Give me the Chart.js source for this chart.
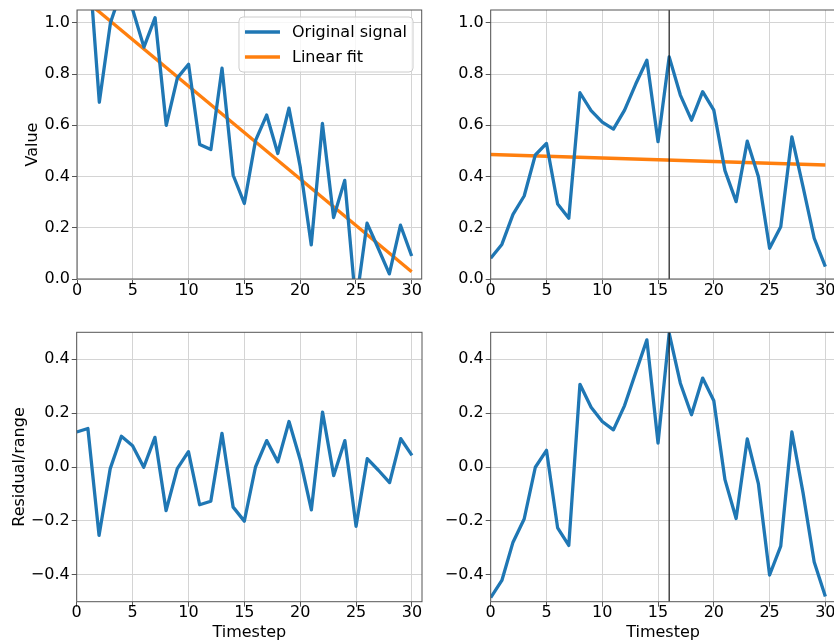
<!DOCTYPE html>
<html>
<head>
<meta charset="utf-8">
<script src="https://cdn.jsdelivr.net/npm/chart.js@4.4.0/dist/chart.umd.min.js"></script>
<style>
  html, body { margin: 0; padding: 0; background: #fff; width: 834px; height: 644px; overflow: hidden; position: relative; }
  canvas { position: absolute; }
</style>
</head>
<body>
<canvas id="topLeft" width="430" height="310" style="left:0px;top:0px"></canvas>
<canvas id="topRight" width="400" height="310" style="left:440px;top:0px"></canvas>
<canvas id="bottomLeft" width="430" height="324" style="left:0px;top:320px"></canvas>
<canvas id="bottomRight" width="400" height="324" style="left:440px;top:320px"></canvas>
<script>
// ---- data ----
const steps = [0, 1, 2, 3, 4, 5, 6, 7, 8, 9, 10, 11, 12, 13, 14, 15, 16, 17, 18, 19, 20, 21, 22, 23, 24, 25, 26, 27, 28, 29, 30];
const xTicks = [0, 5, 10, 15, 20, 25, 30];
const valueTicks = [0, 0.2, 0.4, 0.6, 0.8, 1.0];
const residualTicks = [-0.4, -0.2, 0, 0.2, 0.4];
const stepRange = [0, 30.9];
const valueRange = [0, 1.05];
const residualRange = [-0.5, 0.5];
const markerStep = [16];

// trending signal (left column)
const leftSignal = [1.30, 1.28, 0.69, 1.00, 1.13, 1.05, 0.905, 1.02, 0.60, 0.785, 0.838, 0.525, 0.505, 0.823, 0.405, 0.295,
                    0.54, 0.64, 0.49, 0.667, 0.44, 0.133, 0.607, 0.24, 0.385, -0.10, 0.218, 0.12, 0.02, 0.21, 0.09];
const leftFitSteps = [0, 30];
const leftFit = [1.115, 0.028];
const leftResidual = [0.13, 0.143, -0.254, -0.006, 0.114, 0.079, -0.001, 0.11, -0.162, -0.006, 0.057, -0.14, -0.127, 0.125, -0.149, -0.201,
                      0.0, 0.098, 0.019, 0.169, 0.027, -0.159, 0.204, -0.032, 0.098, -0.22, 0.031, -0.012, -0.058, 0.105, 0.043];

// hump-shaped signal (right column)
const rightSignal = [0.081, 0.135, 0.252, 0.324, 0.484, 0.529, 0.293, 0.237, 0.727, 0.657, 0.612, 0.585, 0.659, 0.761, 0.854, 0.536,
                     0.867, 0.718, 0.62, 0.731, 0.659, 0.423, 0.302, 0.538, 0.399, 0.12, 0.204, 0.555, 0.36, 0.159, 0.048];
const rightFitSteps = [0, 30];
const rightFit = [0.486, 0.445];
const rightResidual = [-0.485, -0.421, -0.279, -0.193, -0.001, 0.062, -0.226, -0.291, 0.307, 0.222, 0.169, 0.138, 0.228, 0.351, 0.472, 0.089,
                       0.496, 0.311, 0.194, 0.33, 0.246, -0.047, -0.191, 0.104, -0.063, -0.401, -0.294, 0.13, -0.096, -0.353, -0.481];

// ---- styling ----
Chart.defaults.font.family = '"DejaVu Sans", sans-serif';
Chart.defaults.font.size = 16;
Chart.defaults.color = '#000';

const BLUE = '#1f77b4';
const ORANGE = '#ff7f0e';
const GRID = '#d4d4d4';
const SPINE = '#555';

function series(xs, ys, label, color) {
  return {
    label: label,
    data: xs.map((x, i) => ({ x: x, y: ys[i] })),
    borderColor: color,
    backgroundColor: color,
    borderWidth: 3.3,
    pointRadius: 0,
    tension: 0,
    fill: false,
    clip: 0,
    borderJoinStyle: 'round'
  };
}

function fmtTick(v) {
  const s = Math.abs(v).toFixed(1);
  return v < -1e-9 ? '\u2212' + s : s;
}

// axes frame and optional vertical marker
const framePlugin = {
  id: 'frame',
  afterDatasetsDraw(chart, args, opts) {
    const { ctx, chartArea: a } = chart;
    ctx.save();
    if (opts && opts.marker != null) {
      const px = chart.scales.x.getPixelForValue(opts.marker);
      ctx.strokeStyle = '#1a1a1a';
      ctx.lineWidth = 1.2;
      ctx.beginPath();
      ctx.moveTo(px, a.top);
      ctx.lineTo(px, a.bottom);
      ctx.stroke();
    }
    ctx.strokeStyle = SPINE;
    ctx.lineWidth = 1;
    ctx.strokeRect(a.left, a.top, a.right - a.left, a.bottom - a.top);
    ctx.restore();
  }
};

// boxed legend in the upper-right corner of the plot area
const boxLegendPlugin = {
  id: 'boxLegend',
  afterDraw(chart, args, opts) {
    if (!opts || !opts.show) return;
    const { ctx, chartArea: a } = chart;
    const items = chart.data.datasets.filter(d => d.label);
    ctx.save();
    ctx.font = '16px "DejaVu Sans", sans-serif';
    const textW = Math.max(...items.map(d => ctx.measureText(d.label).width));
    const w = 6 + 35 + 12 + textW + 6;
    const h = 55;
    const x = a.right - 8.7 - w;
    const y = a.top + 7;
    ctx.beginPath();
    ctx.roundRect(x, y, w, h, 4);
    ctx.fillStyle = 'rgba(255,255,255,0.8)';
    ctx.fill();
    ctx.strokeStyle = '#cccccc';
    ctx.lineWidth = 1;
    ctx.stroke();
    items.forEach((d, i) => {
      const cy = y + 15 + i * 25;
      ctx.strokeStyle = d.borderColor;
      ctx.lineWidth = 3.3;
      ctx.beginPath();
      ctx.moveTo(x + 6, cy);
      ctx.lineTo(x + 41, cy);
      ctx.stroke();
      ctx.fillStyle = '#000';
      ctx.textAlign = 'left';
      ctx.textBaseline = 'middle';
      ctx.fillText(d.label, x + 53, cy + 1);
    });
    ctx.restore();
  }
};

function zeroPadding(s) {
  s.paddingLeft = 0; s.paddingRight = 0; s.paddingTop = 0; s.paddingBottom = 0;
}

function makePanel(id, g) {
  return new Chart(document.getElementById(id), {
    type: 'line',
    data: { datasets: g.datasets },
    plugins: [framePlugin, boxLegendPlugin],
    options: {
      responsive: false,
      animation: false,
      devicePixelRatio: 1,
      events: [],
      layout: { padding: { left: 0, top: g.top, right: g.right, bottom: 0 } },
      plugins: {
        legend: { display: false },
        tooltip: { enabled: false },
        frame: { marker: g.marker },
        boxLegend: { show: !!g.legend }
      },
      scales: {
        x: {
          type: 'linear',
          min: stepRange[0],
          max: stepRange[1],
          afterBuildTicks: s => { s.ticks = xTicks.map(v => ({ value: v })); },
          afterFit: s => { s.height = g.xHeight; zeroPadding(s); },
          grid: { color: GRID, lineWidth: 1, tickColor: SPINE, tickLength: 5, drawTicks: true },
          border: { display: false },
          ticks: { padding: -3, maxRotation: 0, autoSkip: false, callback: v => String(v) },
          title: g.xTitle
            ? { display: true, text: g.xTitle, padding: { top: 0, bottom: 1.4 } }
            : { display: false }
        },
        y: {
          type: 'linear',
          min: g.yRange[0],
          max: g.yRange[1],
          afterBuildTicks: s => { s.ticks = g.yTicks.map(v => ({ value: v })); },
          afterFit: s => { s.width = g.yWidth; zeroPadding(s); },
          grid: { color: GRID, lineWidth: 1, tickColor: SPINE, tickLength: 5, drawTicks: true },
          border: { display: false },
          ticks: { padding: 2, autoSkip: false, callback: fmtTick },
          title: g.yTitle
            ? { display: true, text: g.yTitle, padding: { top: g.yTitlePad, bottom: 0 } }
            : { display: false }
        }
      }
    }
  });
}

makePanel('topLeft', {
  datasets: [
    series(steps, leftSignal, 'Original signal', BLUE),
    series(leftFitSteps, leftFit, 'Linear fit', ORANGE)
  ],
  yTicks: valueTicks, yRange: valueRange,
  yTitle: 'Value', yTitlePad: 23.4,
  yWidth: 77, xHeight: 31, top: 10, right: 8.3,
  legend: true
});

makePanel('topRight', {
  datasets: [
    series(steps, rightSignal, 'Original signal', BLUE),
    series(rightFitSteps, rightFit, 'Linear fit', ORANGE)
  ],
  yTicks: valueTicks, yRange: valueRange,
  yWidth: 50.7, xHeight: 31, top: 10, right: 4.6,
  marker: markerStep[0]
});

makePanel('bottomLeft', {
  datasets: [ series(steps, leftResidual, 'Residual', BLUE) ],
  yTicks: residualTicks, yRange: residualRange,
  yTitle: 'Residual/range', yTitlePad: 10.4,
  xTitle: 'Timestep',
  yWidth: 76.7, xHeight: 42.3, top: 12.3, right: 8
});

makePanel('bottomRight', {
  datasets: [ series(steps, rightResidual, 'Residual', BLUE) ],
  yTicks: residualTicks, yRange: residualRange,
  xTitle: 'Timestep',
  yWidth: 50.7, xHeight: 42.3, top: 12.3, right: 4.6,
  marker: markerStep[0]
});
</script>
</body>
</html>
